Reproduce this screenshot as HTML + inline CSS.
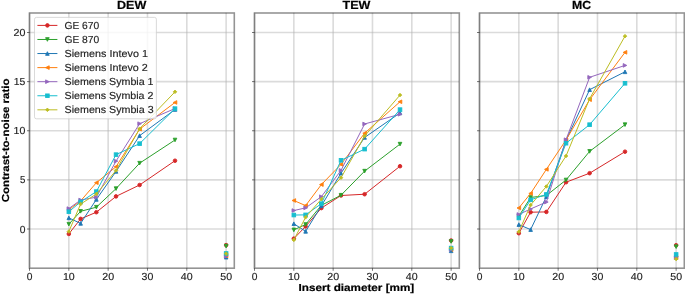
<!DOCTYPE html>
<html><head><meta charset="utf-8"><title>CNR vs insert diameter</title>
<style>html,body{margin:0;padding:0;background:#fff;}body{width:685px;height:294px;overflow:hidden;font-family:"Liberation Sans",sans-serif;}svg{display:block;will-change:transform;}text{text-rendering:geometricPrecision;}</style>
</head><body>
<svg width="685" height="294" viewBox="0 0 685 294" font-family="Liberation Sans, sans-serif">
<rect width="685" height="294" fill="#fff"/>
<defs><clipPath id="clip0"><rect x="29.50" y="12.85" width="204.50" height="255.45"/></clipPath><clipPath id="clip1"><rect x="254.50" y="12.85" width="204.50" height="255.45"/></clipPath><clipPath id="clip2"><rect x="479.50" y="12.85" width="204.50" height="255.45"/></clipPath></defs>
<g stroke="#b0b0b0" stroke-opacity="0.45" stroke-width="1.6"><line x1="29.50" y1="12.85" x2="29.50" y2="268.30"/><line x1="68.83" y1="12.85" x2="68.83" y2="268.30"/><line x1="108.15" y1="12.85" x2="108.15" y2="268.30"/><line x1="147.48" y1="12.85" x2="147.48" y2="268.30"/><line x1="186.81" y1="12.85" x2="186.81" y2="268.30"/><line x1="226.13" y1="12.85" x2="226.13" y2="268.30"/><line x1="29.50" y1="229.00" x2="234.00" y2="229.00"/><line x1="29.50" y1="179.88" x2="234.00" y2="179.88"/><line x1="29.50" y1="130.75" x2="234.00" y2="130.75"/><line x1="29.50" y1="81.62" x2="234.00" y2="81.62"/><line x1="29.50" y1="32.50" x2="234.00" y2="32.50"/></g>
<g clip-path="url(#clip0)">
<polyline points="68.83,233.92 80.62,218.89 96.36,212.21 116.02,196.39 139.62,184.99 175.01,160.72" fill="none" stroke="#d62728" stroke-width="1.0" stroke-linejoin="round" stroke-linecap="butt"/>
<circle cx="68.83" cy="233.92" r="1.80" fill="#d62728" stroke="#d62728" stroke-width="0.9" stroke-linejoin="miter"/>
<circle cx="80.62" cy="218.89" r="1.80" fill="#d62728" stroke="#d62728" stroke-width="0.9" stroke-linejoin="miter"/>
<circle cx="96.36" cy="212.21" r="1.80" fill="#d62728" stroke="#d62728" stroke-width="0.9" stroke-linejoin="miter"/>
<circle cx="116.02" cy="196.39" r="1.80" fill="#d62728" stroke="#d62728" stroke-width="0.9" stroke-linejoin="miter"/>
<circle cx="139.62" cy="184.99" r="1.80" fill="#d62728" stroke="#d62728" stroke-width="0.9" stroke-linejoin="miter"/>
<circle cx="175.01" cy="160.72" r="1.80" fill="#d62728" stroke="#d62728" stroke-width="0.9" stroke-linejoin="miter"/>
<circle cx="226.13" cy="245.12" r="1.80" fill="#d62728" stroke="#d62728" stroke-width="0.9" stroke-linejoin="miter"/>
<polyline points="68.83,224.19 80.62,211.32 96.36,207.20 116.02,188.63 139.62,163.18 175.01,139.99" fill="none" stroke="#2ca02c" stroke-width="1.0" stroke-linejoin="round" stroke-linecap="butt"/>
<polygon points="68.83,225.99 67.03,222.39 70.63,222.39" fill="#2ca02c" stroke="#2ca02c" stroke-width="0.9" stroke-linejoin="miter"/>
<polygon points="80.62,213.12 78.83,209.52 82.42,209.52" fill="#2ca02c" stroke="#2ca02c" stroke-width="0.9" stroke-linejoin="miter"/>
<polygon points="96.36,209.00 94.56,205.40 98.16,205.40" fill="#2ca02c" stroke="#2ca02c" stroke-width="0.9" stroke-linejoin="miter"/>
<polygon points="116.02,190.43 114.22,186.83 117.82,186.83" fill="#2ca02c" stroke="#2ca02c" stroke-width="0.9" stroke-linejoin="miter"/>
<polygon points="139.62,164.98 137.82,161.38 141.42,161.38" fill="#2ca02c" stroke="#2ca02c" stroke-width="0.9" stroke-linejoin="miter"/>
<polygon points="175.01,141.79 173.21,138.19 176.81,138.19" fill="#2ca02c" stroke="#2ca02c" stroke-width="0.9" stroke-linejoin="miter"/>
<polygon points="226.13,247.90 224.33,244.30 227.93,244.30" fill="#2ca02c" stroke="#2ca02c" stroke-width="0.9" stroke-linejoin="miter"/>
<polyline points="68.83,217.90 80.62,223.41 96.36,199.43 116.02,171.43 139.62,135.67 175.01,109.54" fill="none" stroke="#1f77b4" stroke-width="1.0" stroke-linejoin="round" stroke-linecap="butt"/>
<polygon points="68.83,216.10 67.03,219.70 70.63,219.70" fill="#1f77b4" stroke="#1f77b4" stroke-width="0.9" stroke-linejoin="miter"/>
<polygon points="80.62,221.61 78.83,225.21 82.42,225.21" fill="#1f77b4" stroke="#1f77b4" stroke-width="0.9" stroke-linejoin="miter"/>
<polygon points="96.36,197.63 94.56,201.23 98.16,201.23" fill="#1f77b4" stroke="#1f77b4" stroke-width="0.9" stroke-linejoin="miter"/>
<polygon points="116.02,169.63 114.22,173.23 117.82,173.23" fill="#1f77b4" stroke="#1f77b4" stroke-width="0.9" stroke-linejoin="miter"/>
<polygon points="139.62,133.87 137.82,137.47 141.42,137.47" fill="#1f77b4" stroke="#1f77b4" stroke-width="0.9" stroke-linejoin="miter"/>
<polygon points="175.01,107.74 173.21,111.34 176.81,111.34" fill="#1f77b4" stroke="#1f77b4" stroke-width="0.9" stroke-linejoin="miter"/>
<polygon points="226.13,255.40 224.33,259.00 227.93,259.00" fill="#1f77b4" stroke="#1f77b4" stroke-width="0.9" stroke-linejoin="miter"/>
<polyline points="68.83,209.75 80.62,200.91 96.36,182.73 116.02,166.72 139.62,129.19 175.01,102.46" fill="none" stroke="#ff7f0e" stroke-width="1.0" stroke-linejoin="round" stroke-linecap="butt"/>
<polygon points="67.03,209.75 70.63,207.95 70.63,211.55" fill="#ff7f0e" stroke="#ff7f0e" stroke-width="0.9" stroke-linejoin="miter"/>
<polygon points="78.83,200.91 82.42,199.11 82.42,202.71" fill="#ff7f0e" stroke="#ff7f0e" stroke-width="0.9" stroke-linejoin="miter"/>
<polygon points="94.56,182.73 98.16,180.93 98.16,184.53" fill="#ff7f0e" stroke="#ff7f0e" stroke-width="0.9" stroke-linejoin="miter"/>
<polygon points="114.22,166.72 117.82,164.92 117.82,168.52" fill="#ff7f0e" stroke="#ff7f0e" stroke-width="0.9" stroke-linejoin="miter"/>
<polygon points="137.82,129.19 141.42,127.39 141.42,130.99" fill="#ff7f0e" stroke="#ff7f0e" stroke-width="0.9" stroke-linejoin="miter"/>
<polygon points="173.21,102.46 176.81,100.66 176.81,104.26" fill="#ff7f0e" stroke="#ff7f0e" stroke-width="0.9" stroke-linejoin="miter"/>
<polygon points="224.33,255.93 227.93,254.13 227.93,257.73" fill="#ff7f0e" stroke="#ff7f0e" stroke-width="0.9" stroke-linejoin="miter"/>
<polyline points="68.83,208.57 80.62,200.02 96.36,197.17 116.02,161.12 139.62,123.68 175.01,108.55" fill="none" stroke="#9467bd" stroke-width="1.0" stroke-linejoin="round" stroke-linecap="butt"/>
<polygon points="70.63,208.57 67.03,206.77 67.03,210.37" fill="#9467bd" stroke="#9467bd" stroke-width="0.9" stroke-linejoin="miter"/>
<polygon points="82.42,200.02 78.83,198.22 78.83,201.82" fill="#9467bd" stroke="#9467bd" stroke-width="0.9" stroke-linejoin="miter"/>
<polygon points="98.16,197.17 94.56,195.37 94.56,198.97" fill="#9467bd" stroke="#9467bd" stroke-width="0.9" stroke-linejoin="miter"/>
<polygon points="117.82,161.12 114.22,159.32 114.22,162.92" fill="#9467bd" stroke="#9467bd" stroke-width="0.9" stroke-linejoin="miter"/>
<polygon points="141.42,123.68 137.82,121.88 137.82,125.48" fill="#9467bd" stroke="#9467bd" stroke-width="0.9" stroke-linejoin="miter"/>
<polygon points="176.81,108.55 173.21,106.75 173.21,110.35" fill="#9467bd" stroke="#9467bd" stroke-width="0.9" stroke-linejoin="miter"/>
<polygon points="227.93,256.32 224.33,254.52 224.33,258.12" fill="#9467bd" stroke="#9467bd" stroke-width="0.9" stroke-linejoin="miter"/>
<polyline points="68.83,211.72 80.62,201.89 96.36,191.57 116.02,154.63 139.62,143.63 175.01,108.65" fill="none" stroke="#17becf" stroke-width="1.0" stroke-linejoin="round" stroke-linecap="butt"/>
<rect x="67.03" y="209.91" width="3.60" height="3.60" fill="#17becf" stroke="#17becf" stroke-width="0.9" stroke-linejoin="miter"/>
<rect x="78.83" y="200.09" width="3.60" height="3.60" fill="#17becf" stroke="#17becf" stroke-width="0.9" stroke-linejoin="miter"/>
<rect x="94.56" y="189.77" width="3.60" height="3.60" fill="#17becf" stroke="#17becf" stroke-width="0.9" stroke-linejoin="miter"/>
<rect x="114.22" y="152.83" width="3.60" height="3.60" fill="#17becf" stroke="#17becf" stroke-width="0.9" stroke-linejoin="miter"/>
<rect x="137.82" y="141.83" width="3.60" height="3.60" fill="#17becf" stroke="#17becf" stroke-width="0.9" stroke-linejoin="miter"/>
<rect x="173.21" y="106.85" width="3.60" height="3.60" fill="#17becf" stroke="#17becf" stroke-width="0.9" stroke-linejoin="miter"/>
<rect x="224.33" y="251.67" width="3.60" height="3.60" fill="#17becf" stroke="#17becf" stroke-width="0.9" stroke-linejoin="miter"/>
<polyline points="68.83,231.56 80.62,204.05 96.36,194.03 116.02,170.45 139.62,128.69 175.01,91.85" fill="none" stroke="#bcbd22" stroke-width="1.0" stroke-linejoin="round" stroke-linecap="butt"/>
<polygon points="68.83,229.81 70.58,231.56 68.83,233.31 67.08,231.56" fill="#bcbd22" stroke="#bcbd22" stroke-width="0.9" stroke-linejoin="miter"/>
<polygon points="80.62,202.30 82.38,204.05 80.62,205.80 78.88,204.05" fill="#bcbd22" stroke="#bcbd22" stroke-width="0.9" stroke-linejoin="miter"/>
<polygon points="96.36,192.28 98.11,194.03 96.36,195.78 94.61,194.03" fill="#bcbd22" stroke="#bcbd22" stroke-width="0.9" stroke-linejoin="miter"/>
<polygon points="116.02,168.70 117.77,170.45 116.02,172.20 114.27,170.45" fill="#bcbd22" stroke="#bcbd22" stroke-width="0.9" stroke-linejoin="miter"/>
<polygon points="139.62,126.94 141.37,128.69 139.62,130.44 137.87,128.69" fill="#bcbd22" stroke="#bcbd22" stroke-width="0.9" stroke-linejoin="miter"/>
<polygon points="175.01,90.10 176.76,91.85 175.01,93.60 173.26,91.85" fill="#bcbd22" stroke="#bcbd22" stroke-width="0.9" stroke-linejoin="miter"/>
<polygon points="226.13,251.92 227.88,253.67 226.13,255.42 224.38,253.67" fill="#bcbd22" stroke="#bcbd22" stroke-width="0.9" stroke-linejoin="miter"/>
</g>
<rect x="29.50" y="13.0" width="204.80" height="255.20" fill="none" stroke="#000" stroke-opacity="0.42" stroke-width="1.6"/>
<g stroke="#000" stroke-opacity="0.6" stroke-width="0.9"><line x1="29.50" y1="268.30" x2="29.50" y2="270.80"/><line x1="68.83" y1="268.30" x2="68.83" y2="270.80"/><line x1="108.15" y1="268.30" x2="108.15" y2="270.80"/><line x1="147.48" y1="268.30" x2="147.48" y2="270.80"/><line x1="186.81" y1="268.30" x2="186.81" y2="270.80"/><line x1="226.13" y1="268.30" x2="226.13" y2="270.80"/><line x1="27.00" y1="229.00" x2="29.50" y2="229.00"/><line x1="27.00" y1="179.88" x2="29.50" y2="179.88"/><line x1="27.00" y1="130.75" x2="29.50" y2="130.75"/><line x1="27.00" y1="81.62" x2="29.50" y2="81.62"/><line x1="27.00" y1="32.50" x2="29.50" y2="32.50"/></g>
<text x="26.65" y="279.73" font-size="10.21" font-weight="normal" textLength="5.71" lengthAdjust="spacingAndGlyphs" fill="#222" stroke="#222" stroke-width="0.15">0</text>
<text x="62.95" y="279.73" font-size="10.21" font-weight="normal" textLength="11.81" lengthAdjust="spacingAndGlyphs" fill="#222" stroke="#222" stroke-width="0.15">10</text>
<text x="102.20" y="279.73" font-size="10.21" font-weight="normal" textLength="11.89" lengthAdjust="spacingAndGlyphs" fill="#222" stroke="#222" stroke-width="0.15">20</text>
<text x="141.64" y="279.73" font-size="10.21" font-weight="normal" textLength="11.78" lengthAdjust="spacingAndGlyphs" fill="#222" stroke="#222" stroke-width="0.15">30</text>
<text x="180.88" y="279.73" font-size="10.21" font-weight="normal" textLength="11.86" lengthAdjust="spacingAndGlyphs" fill="#222" stroke="#222" stroke-width="0.15">40</text>
<text x="220.30" y="279.73" font-size="10.21" font-weight="normal" textLength="11.78" lengthAdjust="spacingAndGlyphs" fill="#222" stroke="#222" stroke-width="0.15">50</text>
<text x="19.72" y="232.50" font-size="10.20" font-weight="normal" textLength="5.71" lengthAdjust="spacingAndGlyphs" fill="#222" stroke="#222" stroke-width="0.15">0</text>
<text x="20.03" y="183.37" font-size="10.20" font-weight="normal" textLength="5.37" lengthAdjust="spacingAndGlyphs" fill="#222" stroke="#222" stroke-width="0.15">5</text>
<text x="13.64" y="134.25" font-size="10.20" font-weight="normal" textLength="11.81" lengthAdjust="spacingAndGlyphs" fill="#222" stroke="#222" stroke-width="0.15">10</text>
<text x="13.84" y="85.12" font-size="10.20" font-weight="normal" textLength="11.60" lengthAdjust="spacingAndGlyphs" fill="#222" stroke="#222" stroke-width="0.15">15</text>
<text x="13.56" y="36.00" font-size="10.20" font-weight="normal" textLength="11.89" lengthAdjust="spacingAndGlyphs" fill="#222" stroke="#222" stroke-width="0.15">20</text>
<text x="117.05" y="9.30" font-size="11.74" font-weight="bold" textLength="29.30" lengthAdjust="spacingAndGlyphs" fill="#000" stroke="#000" stroke-width="0.2">DEW</text>
<g stroke="#b0b0b0" stroke-opacity="0.45" stroke-width="1.6"><line x1="254.50" y1="12.85" x2="254.50" y2="268.30"/><line x1="293.83" y1="12.85" x2="293.83" y2="268.30"/><line x1="333.15" y1="12.85" x2="333.15" y2="268.30"/><line x1="372.48" y1="12.85" x2="372.48" y2="268.30"/><line x1="411.81" y1="12.85" x2="411.81" y2="268.30"/><line x1="451.13" y1="12.85" x2="451.13" y2="268.30"/><line x1="254.50" y1="229.00" x2="459.00" y2="229.00"/><line x1="254.50" y1="179.88" x2="459.00" y2="179.88"/><line x1="254.50" y1="130.75" x2="459.00" y2="130.75"/><line x1="254.50" y1="81.62" x2="459.00" y2="81.62"/><line x1="254.50" y1="32.50" x2="459.00" y2="32.50"/></g>
<g clip-path="url(#clip1)">
<polyline points="293.83,238.64 305.62,226.45 321.36,208.08 341.02,195.50 364.62,194.23 400.01,166.23" fill="none" stroke="#d62728" stroke-width="1.0" stroke-linejoin="round" stroke-linecap="butt"/>
<circle cx="293.83" cy="238.64" r="1.80" fill="#d62728" stroke="#d62728" stroke-width="0.9" stroke-linejoin="miter"/>
<circle cx="305.62" cy="226.45" r="1.80" fill="#d62728" stroke="#d62728" stroke-width="0.9" stroke-linejoin="miter"/>
<circle cx="321.36" cy="208.08" r="1.80" fill="#d62728" stroke="#d62728" stroke-width="0.9" stroke-linejoin="miter"/>
<circle cx="341.02" cy="195.50" r="1.80" fill="#d62728" stroke="#d62728" stroke-width="0.9" stroke-linejoin="miter"/>
<circle cx="364.62" cy="194.23" r="1.80" fill="#d62728" stroke="#d62728" stroke-width="0.9" stroke-linejoin="miter"/>
<circle cx="400.01" cy="166.23" r="1.80" fill="#d62728" stroke="#d62728" stroke-width="0.9" stroke-linejoin="miter"/>
<circle cx="451.13" cy="240.50" r="1.80" fill="#d62728" stroke="#d62728" stroke-width="0.9" stroke-linejoin="miter"/>
<polyline points="293.83,229.89 305.62,224.49 321.36,205.33 341.02,195.21 364.62,171.14 400.01,144.12" fill="none" stroke="#2ca02c" stroke-width="1.0" stroke-linejoin="round" stroke-linecap="butt"/>
<polygon points="293.83,231.69 292.03,228.09 295.63,228.09" fill="#2ca02c" stroke="#2ca02c" stroke-width="0.9" stroke-linejoin="miter"/>
<polygon points="305.62,226.29 303.82,222.69 307.43,222.69" fill="#2ca02c" stroke="#2ca02c" stroke-width="0.9" stroke-linejoin="miter"/>
<polygon points="321.36,207.13 319.56,203.53 323.16,203.53" fill="#2ca02c" stroke="#2ca02c" stroke-width="0.9" stroke-linejoin="miter"/>
<polygon points="341.02,197.01 339.22,193.41 342.82,193.41" fill="#2ca02c" stroke="#2ca02c" stroke-width="0.9" stroke-linejoin="miter"/>
<polygon points="364.62,172.94 362.82,169.34 366.42,169.34" fill="#2ca02c" stroke="#2ca02c" stroke-width="0.9" stroke-linejoin="miter"/>
<polygon points="400.01,145.92 398.21,142.32 401.81,142.32" fill="#2ca02c" stroke="#2ca02c" stroke-width="0.9" stroke-linejoin="miter"/>
<polygon points="451.13,243.28 449.33,239.68 452.93,239.68" fill="#2ca02c" stroke="#2ca02c" stroke-width="0.9" stroke-linejoin="miter"/>
<polyline points="293.83,223.70 305.62,231.37 321.36,205.82 341.02,173.20 364.62,137.44 400.01,112.97" fill="none" stroke="#1f77b4" stroke-width="1.0" stroke-linejoin="round" stroke-linecap="butt"/>
<polygon points="293.83,221.90 292.03,225.50 295.63,225.50" fill="#1f77b4" stroke="#1f77b4" stroke-width="0.9" stroke-linejoin="miter"/>
<polygon points="305.62,229.56 303.82,233.17 307.43,233.17" fill="#1f77b4" stroke="#1f77b4" stroke-width="0.9" stroke-linejoin="miter"/>
<polygon points="321.36,204.02 319.56,207.62 323.16,207.62" fill="#1f77b4" stroke="#1f77b4" stroke-width="0.9" stroke-linejoin="miter"/>
<polygon points="341.02,171.40 339.22,175.00 342.82,175.00" fill="#1f77b4" stroke="#1f77b4" stroke-width="0.9" stroke-linejoin="miter"/>
<polygon points="364.62,135.64 362.82,139.24 366.42,139.24" fill="#1f77b4" stroke="#1f77b4" stroke-width="0.9" stroke-linejoin="miter"/>
<polygon points="400.01,111.17 398.21,114.77 401.81,114.77" fill="#1f77b4" stroke="#1f77b4" stroke-width="0.9" stroke-linejoin="miter"/>
<polygon points="451.13,249.02 449.33,252.62 452.93,252.62" fill="#1f77b4" stroke="#1f77b4" stroke-width="0.9" stroke-linejoin="miter"/>
<polyline points="293.83,200.51 305.62,205.62 321.36,184.60 341.02,164.36 364.62,133.21 400.01,101.77" fill="none" stroke="#ff7f0e" stroke-width="1.0" stroke-linejoin="round" stroke-linecap="butt"/>
<polygon points="292.03,200.51 295.63,198.71 295.63,202.31" fill="#ff7f0e" stroke="#ff7f0e" stroke-width="0.9" stroke-linejoin="miter"/>
<polygon points="303.82,205.62 307.43,203.82 307.43,207.42" fill="#ff7f0e" stroke="#ff7f0e" stroke-width="0.9" stroke-linejoin="miter"/>
<polygon points="319.56,184.60 323.16,182.80 323.16,186.40" fill="#ff7f0e" stroke="#ff7f0e" stroke-width="0.9" stroke-linejoin="miter"/>
<polygon points="339.22,164.36 342.82,162.56 342.82,166.16" fill="#ff7f0e" stroke="#ff7f0e" stroke-width="0.9" stroke-linejoin="miter"/>
<polygon points="362.82,133.21 366.42,131.41 366.42,135.01" fill="#ff7f0e" stroke="#ff7f0e" stroke-width="0.9" stroke-linejoin="miter"/>
<polygon points="398.21,101.77 401.81,99.97 401.81,103.57" fill="#ff7f0e" stroke="#ff7f0e" stroke-width="0.9" stroke-linejoin="miter"/>
<polygon points="449.33,249.54 452.93,247.74 452.93,251.34" fill="#ff7f0e" stroke="#ff7f0e" stroke-width="0.9" stroke-linejoin="miter"/>
<polyline points="293.83,210.54 305.62,207.88 321.36,196.68 341.02,170.35 364.62,123.98 400.01,114.25" fill="none" stroke="#9467bd" stroke-width="1.0" stroke-linejoin="round" stroke-linecap="butt"/>
<polygon points="295.63,210.54 292.03,208.74 292.03,212.34" fill="#9467bd" stroke="#9467bd" stroke-width="0.9" stroke-linejoin="miter"/>
<polygon points="307.43,207.88 303.82,206.08 303.82,209.68" fill="#9467bd" stroke="#9467bd" stroke-width="0.9" stroke-linejoin="miter"/>
<polygon points="323.16,196.68 319.56,194.88 319.56,198.48" fill="#9467bd" stroke="#9467bd" stroke-width="0.9" stroke-linejoin="miter"/>
<polygon points="342.82,170.35 339.22,168.55 339.22,172.15" fill="#9467bd" stroke="#9467bd" stroke-width="0.9" stroke-linejoin="miter"/>
<polygon points="366.42,123.98 362.82,122.18 362.82,125.78" fill="#9467bd" stroke="#9467bd" stroke-width="0.9" stroke-linejoin="miter"/>
<polygon points="401.81,114.25 398.21,112.45 398.21,116.05" fill="#9467bd" stroke="#9467bd" stroke-width="0.9" stroke-linejoin="miter"/>
<polygon points="452.93,249.54 449.33,247.74 449.33,251.34" fill="#9467bd" stroke="#9467bd" stroke-width="0.9" stroke-linejoin="miter"/>
<polyline points="293.83,215.06 305.62,214.86 321.36,203.66 341.02,160.33 364.62,149.13 400.01,109.63" fill="none" stroke="#17becf" stroke-width="1.0" stroke-linejoin="round" stroke-linecap="butt"/>
<rect x="292.03" y="213.26" width="3.60" height="3.60" fill="#17becf" stroke="#17becf" stroke-width="0.9" stroke-linejoin="miter"/>
<rect x="303.82" y="213.06" width="3.60" height="3.60" fill="#17becf" stroke="#17becf" stroke-width="0.9" stroke-linejoin="miter"/>
<rect x="319.56" y="201.86" width="3.60" height="3.60" fill="#17becf" stroke="#17becf" stroke-width="0.9" stroke-linejoin="miter"/>
<rect x="339.22" y="158.53" width="3.60" height="3.60" fill="#17becf" stroke="#17becf" stroke-width="0.9" stroke-linejoin="miter"/>
<rect x="362.82" y="147.33" width="3.60" height="3.60" fill="#17becf" stroke="#17becf" stroke-width="0.9" stroke-linejoin="miter"/>
<rect x="398.21" y="107.83" width="3.60" height="3.60" fill="#17becf" stroke="#17becf" stroke-width="0.9" stroke-linejoin="miter"/>
<rect x="449.33" y="246.27" width="3.60" height="3.60" fill="#17becf" stroke="#17becf" stroke-width="0.9" stroke-linejoin="miter"/>
<polyline points="293.83,239.91 305.62,217.22 321.36,199.14 341.02,177.72 364.62,136.06 400.01,95.09" fill="none" stroke="#bcbd22" stroke-width="1.0" stroke-linejoin="round" stroke-linecap="butt"/>
<polygon points="293.83,238.16 295.58,239.91 293.83,241.66 292.08,239.91" fill="#bcbd22" stroke="#bcbd22" stroke-width="0.9" stroke-linejoin="miter"/>
<polygon points="305.62,215.47 307.38,217.22 305.62,218.97 303.88,217.22" fill="#bcbd22" stroke="#bcbd22" stroke-width="0.9" stroke-linejoin="miter"/>
<polygon points="321.36,197.39 323.11,199.14 321.36,200.89 319.61,199.14" fill="#bcbd22" stroke="#bcbd22" stroke-width="0.9" stroke-linejoin="miter"/>
<polygon points="341.02,175.97 342.77,177.72 341.02,179.47 339.27,177.72" fill="#bcbd22" stroke="#bcbd22" stroke-width="0.9" stroke-linejoin="miter"/>
<polygon points="364.62,134.31 366.37,136.06 364.62,137.81 362.87,136.06" fill="#bcbd22" stroke="#bcbd22" stroke-width="0.9" stroke-linejoin="miter"/>
<polygon points="400.01,93.34 401.76,95.09 400.01,96.84 398.26,95.09" fill="#bcbd22" stroke="#bcbd22" stroke-width="0.9" stroke-linejoin="miter"/>
<polygon points="451.13,246.32 452.88,248.07 451.13,249.82 449.38,248.07" fill="#bcbd22" stroke="#bcbd22" stroke-width="0.9" stroke-linejoin="miter"/>
</g>
<rect x="254.50" y="13.0" width="204.80" height="255.20" fill="none" stroke="#000" stroke-opacity="0.42" stroke-width="1.6"/>
<g stroke="#000" stroke-opacity="0.6" stroke-width="0.9"><line x1="254.50" y1="268.30" x2="254.50" y2="270.80"/><line x1="293.83" y1="268.30" x2="293.83" y2="270.80"/><line x1="333.15" y1="268.30" x2="333.15" y2="270.80"/><line x1="372.48" y1="268.30" x2="372.48" y2="270.80"/><line x1="411.81" y1="268.30" x2="411.81" y2="270.80"/><line x1="451.13" y1="268.30" x2="451.13" y2="270.80"/><line x1="252.00" y1="229.00" x2="254.50" y2="229.00"/><line x1="252.00" y1="179.88" x2="254.50" y2="179.88"/><line x1="252.00" y1="130.75" x2="254.50" y2="130.75"/><line x1="252.00" y1="81.62" x2="254.50" y2="81.62"/><line x1="252.00" y1="32.50" x2="254.50" y2="32.50"/></g>
<text x="251.65" y="279.73" font-size="10.21" font-weight="normal" textLength="5.71" lengthAdjust="spacingAndGlyphs" fill="#222" stroke="#222" stroke-width="0.15">0</text>
<text x="287.95" y="279.73" font-size="10.21" font-weight="normal" textLength="11.81" lengthAdjust="spacingAndGlyphs" fill="#222" stroke="#222" stroke-width="0.15">10</text>
<text x="327.20" y="279.73" font-size="10.21" font-weight="normal" textLength="11.89" lengthAdjust="spacingAndGlyphs" fill="#222" stroke="#222" stroke-width="0.15">20</text>
<text x="366.64" y="279.73" font-size="10.21" font-weight="normal" textLength="11.78" lengthAdjust="spacingAndGlyphs" fill="#222" stroke="#222" stroke-width="0.15">30</text>
<text x="405.88" y="279.73" font-size="10.21" font-weight="normal" textLength="11.86" lengthAdjust="spacingAndGlyphs" fill="#222" stroke="#222" stroke-width="0.15">40</text>
<text x="445.30" y="279.73" font-size="10.21" font-weight="normal" textLength="11.78" lengthAdjust="spacingAndGlyphs" fill="#222" stroke="#222" stroke-width="0.15">50</text>
<text x="342.61" y="9.30" font-size="11.74" font-weight="bold" textLength="27.85" lengthAdjust="spacingAndGlyphs" fill="#000" stroke="#000" stroke-width="0.2">TEW</text>
<g stroke="#b0b0b0" stroke-opacity="0.45" stroke-width="1.6"><line x1="479.50" y1="12.85" x2="479.50" y2="268.30"/><line x1="518.83" y1="12.85" x2="518.83" y2="268.30"/><line x1="558.15" y1="12.85" x2="558.15" y2="268.30"/><line x1="597.48" y1="12.85" x2="597.48" y2="268.30"/><line x1="636.81" y1="12.85" x2="636.81" y2="268.30"/><line x1="676.13" y1="12.85" x2="676.13" y2="268.30"/><line x1="479.50" y1="229.00" x2="684.00" y2="229.00"/><line x1="479.50" y1="179.88" x2="684.00" y2="179.88"/><line x1="479.50" y1="130.75" x2="684.00" y2="130.75"/><line x1="479.50" y1="81.62" x2="684.00" y2="81.62"/><line x1="479.50" y1="32.50" x2="684.00" y2="32.50"/></g>
<g clip-path="url(#clip2)">
<polyline points="518.83,233.23 530.62,212.21 546.36,211.91 566.02,182.24 589.62,173.20 625.01,151.68" fill="none" stroke="#d62728" stroke-width="1.0" stroke-linejoin="round" stroke-linecap="butt"/>
<circle cx="518.83" cy="233.23" r="1.80" fill="#d62728" stroke="#d62728" stroke-width="0.9" stroke-linejoin="miter"/>
<circle cx="530.62" cy="212.21" r="1.80" fill="#d62728" stroke="#d62728" stroke-width="0.9" stroke-linejoin="miter"/>
<circle cx="546.36" cy="211.91" r="1.80" fill="#d62728" stroke="#d62728" stroke-width="0.9" stroke-linejoin="miter"/>
<circle cx="566.02" cy="182.24" r="1.80" fill="#d62728" stroke="#d62728" stroke-width="0.9" stroke-linejoin="miter"/>
<circle cx="589.62" cy="173.20" r="1.80" fill="#d62728" stroke="#d62728" stroke-width="0.9" stroke-linejoin="miter"/>
<circle cx="625.01" cy="151.68" r="1.80" fill="#d62728" stroke="#d62728" stroke-width="0.9" stroke-linejoin="miter"/>
<circle cx="676.13" cy="245.22" r="1.80" fill="#d62728" stroke="#d62728" stroke-width="0.9" stroke-linejoin="miter"/>
<polyline points="518.83,216.14 530.62,197.47 546.36,195.50 566.02,179.98 589.62,151.39 625.01,124.67" fill="none" stroke="#2ca02c" stroke-width="1.0" stroke-linejoin="round" stroke-linecap="butt"/>
<polygon points="518.83,217.94 517.03,214.34 520.63,214.34" fill="#2ca02c" stroke="#2ca02c" stroke-width="0.9" stroke-linejoin="miter"/>
<polygon points="530.62,199.27 528.83,195.67 532.42,195.67" fill="#2ca02c" stroke="#2ca02c" stroke-width="0.9" stroke-linejoin="miter"/>
<polygon points="546.36,197.30 544.56,193.70 548.16,193.70" fill="#2ca02c" stroke="#2ca02c" stroke-width="0.9" stroke-linejoin="miter"/>
<polygon points="566.02,181.78 564.22,178.18 567.82,178.18" fill="#2ca02c" stroke="#2ca02c" stroke-width="0.9" stroke-linejoin="miter"/>
<polygon points="589.62,153.19 587.82,149.59 591.42,149.59" fill="#2ca02c" stroke="#2ca02c" stroke-width="0.9" stroke-linejoin="miter"/>
<polygon points="625.01,126.47 623.21,122.87 626.81,122.87" fill="#2ca02c" stroke="#2ca02c" stroke-width="0.9" stroke-linejoin="miter"/>
<polygon points="676.13,248.49 674.33,244.89 677.93,244.89" fill="#2ca02c" stroke="#2ca02c" stroke-width="0.9" stroke-linejoin="miter"/>
<polyline points="518.83,224.59 530.62,229.60 546.36,196.68 566.02,140.39 589.62,89.69 625.01,71.81" fill="none" stroke="#1f77b4" stroke-width="1.0" stroke-linejoin="round" stroke-linecap="butt"/>
<polygon points="518.83,222.79 517.03,226.39 520.63,226.39" fill="#1f77b4" stroke="#1f77b4" stroke-width="0.9" stroke-linejoin="miter"/>
<polygon points="530.62,227.80 528.83,231.40 532.42,231.40" fill="#1f77b4" stroke="#1f77b4" stroke-width="0.9" stroke-linejoin="miter"/>
<polygon points="546.36,194.88 544.56,198.48 548.16,198.48" fill="#1f77b4" stroke="#1f77b4" stroke-width="0.9" stroke-linejoin="miter"/>
<polygon points="566.02,138.59 564.22,142.19 567.82,142.19" fill="#1f77b4" stroke="#1f77b4" stroke-width="0.9" stroke-linejoin="miter"/>
<polygon points="589.62,87.89 587.82,91.49 591.42,91.49" fill="#1f77b4" stroke="#1f77b4" stroke-width="0.9" stroke-linejoin="miter"/>
<polygon points="625.01,70.01 623.21,73.61 626.81,73.61" fill="#1f77b4" stroke="#1f77b4" stroke-width="0.9" stroke-linejoin="miter"/>
<polygon points="676.13,253.14 674.33,256.75 677.93,256.75" fill="#1f77b4" stroke="#1f77b4" stroke-width="0.9" stroke-linejoin="miter"/>
<polyline points="518.83,207.98 530.62,193.44 546.36,169.37 566.02,139.99 589.62,99.71 625.01,52.35" fill="none" stroke="#ff7f0e" stroke-width="1.0" stroke-linejoin="round" stroke-linecap="butt"/>
<polygon points="517.03,207.98 520.63,206.18 520.63,209.78" fill="#ff7f0e" stroke="#ff7f0e" stroke-width="0.9" stroke-linejoin="miter"/>
<polygon points="528.83,193.44 532.42,191.64 532.42,195.24" fill="#ff7f0e" stroke="#ff7f0e" stroke-width="0.9" stroke-linejoin="miter"/>
<polygon points="544.56,169.37 548.16,167.57 548.16,171.17" fill="#ff7f0e" stroke="#ff7f0e" stroke-width="0.9" stroke-linejoin="miter"/>
<polygon points="564.22,139.99 567.82,138.19 567.82,141.79" fill="#ff7f0e" stroke="#ff7f0e" stroke-width="0.9" stroke-linejoin="miter"/>
<polygon points="587.82,99.71 591.42,97.91 591.42,101.51" fill="#ff7f0e" stroke="#ff7f0e" stroke-width="0.9" stroke-linejoin="miter"/>
<polygon points="623.21,52.35 626.81,50.55 626.81,54.15" fill="#ff7f0e" stroke="#ff7f0e" stroke-width="0.9" stroke-linejoin="miter"/>
<polygon points="674.33,257.70 677.93,255.90 677.93,259.50" fill="#ff7f0e" stroke="#ff7f0e" stroke-width="0.9" stroke-linejoin="miter"/>
<polyline points="518.83,214.47 530.62,208.96 546.36,202.09 566.02,139.70 589.62,77.31 625.01,65.42" fill="none" stroke="#9467bd" stroke-width="1.0" stroke-linejoin="round" stroke-linecap="butt"/>
<polygon points="520.63,214.47 517.03,212.67 517.03,216.27" fill="#9467bd" stroke="#9467bd" stroke-width="0.9" stroke-linejoin="miter"/>
<polygon points="532.42,208.96 528.83,207.16 528.83,210.76" fill="#9467bd" stroke="#9467bd" stroke-width="0.9" stroke-linejoin="miter"/>
<polygon points="548.16,202.09 544.56,200.29 544.56,203.89" fill="#9467bd" stroke="#9467bd" stroke-width="0.9" stroke-linejoin="miter"/>
<polygon points="567.82,139.70 564.22,137.90 564.22,141.50" fill="#9467bd" stroke="#9467bd" stroke-width="0.9" stroke-linejoin="miter"/>
<polygon points="591.42,77.31 587.82,75.51 587.82,79.11" fill="#9467bd" stroke="#9467bd" stroke-width="0.9" stroke-linejoin="miter"/>
<polygon points="626.81,65.42 623.21,63.62 623.21,67.22" fill="#9467bd" stroke="#9467bd" stroke-width="0.9" stroke-linejoin="miter"/>
<polygon points="677.93,257.70 674.33,255.90 674.33,259.50" fill="#9467bd" stroke="#9467bd" stroke-width="0.9" stroke-linejoin="miter"/>
<polyline points="518.83,218.00 530.62,199.83 546.36,194.42 566.02,143.23 589.62,124.67 625.01,83.30" fill="none" stroke="#17becf" stroke-width="1.0" stroke-linejoin="round" stroke-linecap="butt"/>
<rect x="517.03" y="216.20" width="3.60" height="3.60" fill="#17becf" stroke="#17becf" stroke-width="0.9" stroke-linejoin="miter"/>
<rect x="528.83" y="198.03" width="3.60" height="3.60" fill="#17becf" stroke="#17becf" stroke-width="0.9" stroke-linejoin="miter"/>
<rect x="544.56" y="192.62" width="3.60" height="3.60" fill="#17becf" stroke="#17becf" stroke-width="0.9" stroke-linejoin="miter"/>
<rect x="564.22" y="141.43" width="3.60" height="3.60" fill="#17becf" stroke="#17becf" stroke-width="0.9" stroke-linejoin="miter"/>
<rect x="587.82" y="122.87" width="3.60" height="3.60" fill="#17becf" stroke="#17becf" stroke-width="0.9" stroke-linejoin="miter"/>
<rect x="623.21" y="81.50" width="3.60" height="3.60" fill="#17becf" stroke="#17becf" stroke-width="0.9" stroke-linejoin="miter"/>
<rect x="674.33" y="252.65" width="3.60" height="3.60" fill="#17becf" stroke="#17becf" stroke-width="0.9" stroke-linejoin="miter"/>
<polyline points="518.83,231.76 530.62,205.03 546.36,186.46 566.02,156.01 589.62,98.73 625.01,36.14" fill="none" stroke="#bcbd22" stroke-width="1.0" stroke-linejoin="round" stroke-linecap="butt"/>
<polygon points="518.83,230.01 520.58,231.76 518.83,233.51 517.08,231.76" fill="#bcbd22" stroke="#bcbd22" stroke-width="0.9" stroke-linejoin="miter"/>
<polygon points="530.62,203.28 532.38,205.03 530.62,206.78 528.88,205.03" fill="#bcbd22" stroke="#bcbd22" stroke-width="0.9" stroke-linejoin="miter"/>
<polygon points="546.36,184.71 548.11,186.46 546.36,188.21 544.61,186.46" fill="#bcbd22" stroke="#bcbd22" stroke-width="0.9" stroke-linejoin="miter"/>
<polygon points="566.02,154.26 567.77,156.01 566.02,157.76 564.27,156.01" fill="#bcbd22" stroke="#bcbd22" stroke-width="0.9" stroke-linejoin="miter"/>
<polygon points="589.62,96.98 591.37,98.73 589.62,100.48 587.87,98.73" fill="#bcbd22" stroke="#bcbd22" stroke-width="0.9" stroke-linejoin="miter"/>
<polygon points="625.01,34.39 626.76,36.14 625.01,37.89 623.26,36.14" fill="#bcbd22" stroke="#bcbd22" stroke-width="0.9" stroke-linejoin="miter"/>
<polygon points="676.13,257.32 677.88,259.07 676.13,260.82 674.38,259.07" fill="#bcbd22" stroke="#bcbd22" stroke-width="0.9" stroke-linejoin="miter"/>
</g>
<rect x="479.50" y="13.0" width="204.80" height="255.20" fill="none" stroke="#000" stroke-opacity="0.42" stroke-width="1.6"/>
<g stroke="#000" stroke-opacity="0.6" stroke-width="0.9"><line x1="479.50" y1="268.30" x2="479.50" y2="270.80"/><line x1="518.83" y1="268.30" x2="518.83" y2="270.80"/><line x1="558.15" y1="268.30" x2="558.15" y2="270.80"/><line x1="597.48" y1="268.30" x2="597.48" y2="270.80"/><line x1="636.81" y1="268.30" x2="636.81" y2="270.80"/><line x1="676.13" y1="268.30" x2="676.13" y2="270.80"/><line x1="477.00" y1="229.00" x2="479.50" y2="229.00"/><line x1="477.00" y1="179.88" x2="479.50" y2="179.88"/><line x1="477.00" y1="130.75" x2="479.50" y2="130.75"/><line x1="477.00" y1="81.62" x2="479.50" y2="81.62"/><line x1="477.00" y1="32.50" x2="479.50" y2="32.50"/></g>
<text x="476.65" y="279.73" font-size="10.21" font-weight="normal" textLength="5.71" lengthAdjust="spacingAndGlyphs" fill="#222" stroke="#222" stroke-width="0.15">0</text>
<text x="512.95" y="279.73" font-size="10.21" font-weight="normal" textLength="11.81" lengthAdjust="spacingAndGlyphs" fill="#222" stroke="#222" stroke-width="0.15">10</text>
<text x="552.20" y="279.73" font-size="10.21" font-weight="normal" textLength="11.89" lengthAdjust="spacingAndGlyphs" fill="#222" stroke="#222" stroke-width="0.15">20</text>
<text x="591.64" y="279.73" font-size="10.21" font-weight="normal" textLength="11.78" lengthAdjust="spacingAndGlyphs" fill="#222" stroke="#222" stroke-width="0.15">30</text>
<text x="630.88" y="279.73" font-size="10.21" font-weight="normal" textLength="11.86" lengthAdjust="spacingAndGlyphs" fill="#222" stroke="#222" stroke-width="0.15">40</text>
<text x="670.30" y="279.73" font-size="10.21" font-weight="normal" textLength="11.78" lengthAdjust="spacingAndGlyphs" fill="#222" stroke="#222" stroke-width="0.15">50</text>
<text x="572.12" y="9.30" font-size="11.74" font-weight="bold" textLength="19.06" lengthAdjust="spacingAndGlyphs" fill="#000" stroke="#000" stroke-width="0.2">MC</text>
<rect x="34.5" y="17.4" width="121.90" height="101.40" rx="1.9" ry="1.9" fill="#fff" fill-opacity="0.8" stroke="#ccc" stroke-opacity="0.8" stroke-width="0.9"/>
<line x1="37.4" y1="25.40" x2="57.4" y2="25.40" stroke="#d62728" stroke-width="1.0"/>
<circle cx="47.40" cy="25.40" r="1.80" fill="#d62728" stroke="#d62728" stroke-width="0.9" stroke-linejoin="miter"/>
<text x="64.42" y="28.90" font-size="10.21" font-weight="normal" textLength="34.81" lengthAdjust="spacingAndGlyphs" fill="#222" stroke="#222" stroke-width="0.15">GE 670</text>
<line x1="37.4" y1="39.47" x2="57.4" y2="39.47" stroke="#2ca02c" stroke-width="1.0"/>
<polygon points="47.40,41.27 45.60,37.67 49.20,37.67" fill="#2ca02c" stroke="#2ca02c" stroke-width="0.9" stroke-linejoin="miter"/>
<text x="64.42" y="42.97" font-size="10.21" font-weight="normal" textLength="34.81" lengthAdjust="spacingAndGlyphs" fill="#222" stroke="#222" stroke-width="0.15">GE 870</text>
<line x1="37.4" y1="53.54" x2="57.4" y2="53.54" stroke="#1f77b4" stroke-width="1.0"/>
<polygon points="47.40,51.74 45.60,55.34 49.20,55.34" fill="#1f77b4" stroke="#1f77b4" stroke-width="0.9" stroke-linejoin="miter"/>
<text x="64.54" y="57.04" font-size="10.21" font-weight="normal" textLength="83.36" lengthAdjust="spacingAndGlyphs" fill="#222" stroke="#222" stroke-width="0.15">Siemens Intevo 1</text>
<line x1="37.4" y1="67.61" x2="57.4" y2="67.61" stroke="#ff7f0e" stroke-width="1.0"/>
<polygon points="45.60,67.61 49.20,65.81 49.20,69.41" fill="#ff7f0e" stroke="#ff7f0e" stroke-width="0.9" stroke-linejoin="miter"/>
<text x="64.54" y="71.11" font-size="10.21" font-weight="normal" textLength="83.26" lengthAdjust="spacingAndGlyphs" fill="#222" stroke="#222" stroke-width="0.15">Siemens Intevo 2</text>
<line x1="37.4" y1="81.68" x2="57.4" y2="81.68" stroke="#9467bd" stroke-width="1.0"/>
<polygon points="49.20,81.68 45.60,79.88 45.60,83.48" fill="#9467bd" stroke="#9467bd" stroke-width="0.9" stroke-linejoin="miter"/>
<text x="64.55" y="85.18" font-size="10.21" font-weight="normal" textLength="89.00" lengthAdjust="spacingAndGlyphs" fill="#222" stroke="#222" stroke-width="0.15">Siemens Symbia 1</text>
<line x1="37.4" y1="95.75" x2="57.4" y2="95.75" stroke="#17becf" stroke-width="1.0"/>
<rect x="45.60" y="93.95" width="3.60" height="3.60" fill="#17becf" stroke="#17becf" stroke-width="0.9" stroke-linejoin="miter"/>
<text x="64.55" y="99.25" font-size="10.21" font-weight="normal" textLength="88.90" lengthAdjust="spacingAndGlyphs" fill="#222" stroke="#222" stroke-width="0.15">Siemens Symbia 2</text>
<line x1="37.4" y1="109.82" x2="57.4" y2="109.82" stroke="#bcbd22" stroke-width="1.0"/>
<polygon points="47.40,108.07 49.15,109.82 47.40,111.57 45.65,109.82" fill="#bcbd22" stroke="#bcbd22" stroke-width="0.9" stroke-linejoin="miter"/>
<text x="64.55" y="113.32" font-size="10.21" font-weight="normal" textLength="89.04" lengthAdjust="spacingAndGlyphs" fill="#222" stroke="#222" stroke-width="0.15">Siemens Symbia 3</text>
<text x="298.64" y="291.00" font-size="10.14" font-weight="bold" textLength="115.62" lengthAdjust="spacingAndGlyphs" fill="#000" stroke="#000" stroke-width="0.2">Insert diameter [mm]</text>
<g transform="translate(8.7,140.45) rotate(-90)"><text x="-61.84" y="0.00" font-size="10.16" font-weight="bold" textLength="123.79" lengthAdjust="spacingAndGlyphs" fill="#000" stroke="#000" stroke-width="0.2">Contrast-to-noise ratio</text></g>
</svg>
</body></html>
